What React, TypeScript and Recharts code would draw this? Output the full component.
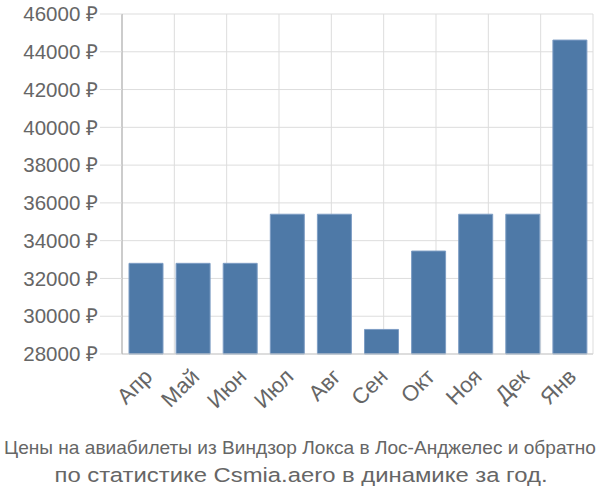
import { Bar, BarChart, CartesianGrid, XAxis, YAxis } from 'recharts'

const months = ['Апр', 'Май', 'Июн', 'Июл', 'Авг', 'Сен', 'Окт', 'Ноя', 'Дек', 'Янв']
const prices = [32800, 32800, 32800, 35400, 35400, 29300, 33450, 35400, 35400, 44620]
const yTicks = [28000, 30000, 32000, 34000, 36000, 38000, 40000, 42000, 44000, 46000]
const gridTicks = [0, 1, 2, 3, 4, 5, 6, 7, 8, 9, 10]
const titleLine1 = 'Цены на авиабилеты из Виндзор Локса в Лос-Анджелес и обратно'
const titleLine2 = 'по статистике Csmia.aero в динамике за год.'

const data = months.map((m, i) => ({ month: m, price: prices[i] }))

const font = '"Liberation Sans", Arial, sans-serif'

function MonthTick({ x, y, payload }: any) {
  const tx = x + 8
  const ty = y + 24
  return (
    <text
      x={tx}
      y={ty}
      transform={`rotate(-45, ${tx}, ${ty})`}
      textAnchor="end"
      fill="#666"
      fontSize={22}
      fontFamily={font}
    >
      {payload.value}
    </text>
  )
}

function GridTick({ x, y, index }: any) {
  return <line x1={x} x2={x} y1={y} y2={y + 20} stroke={index === 0 ? '#aaa' : '#ddd'} />
}

export default function App() {
  return (
    <div style={{ position: 'absolute', left: 0, top: 0, width: 600, height: 500, background: '#fff' }}>
      <BarChart width={600} height={430} data={data} margin={{ top: 14, right: 7, left: 0, bottom: 0 }}>
        <CartesianGrid xAxisId="grid" stroke="#ddd" />
        <XAxis
          xAxisId="grid"
          type="number"
          domain={[0, 10]}
          ticks={gridTicks}
          height={0}
          tickSize={0}
          tickMargin={0}
          tickLine={false}
          axisLine={false}
          tick={<GridTick />}
        />
        <XAxis
          xAxisId="cat"
          dataKey="month"
          height={76}
          tickSize={0}
          tickMargin={0}
          tickLine={false}
          axisLine={{ stroke: '#ccc' }}
          interval={0}
          tick={<MonthTick />}
        />
        <YAxis
          width={122}
          domain={[28000, 46000]}
          ticks={yTicks}
          interval={0}
          tickSize={22}
          tickMargin={2}
          tickLine={{ stroke: '#ddd' }}
          axisLine={{ stroke: '#aaa' }}
          tickFormatter={(v) => `${v} ₽`}
          tick={{ fill: '#666', fontSize: 20.5, fontFamily: font }}
        />
        <Bar
          xAxisId="cat"
          dataKey="price"
          fill="#4e79a7"
          stroke="#7d9dc4"
          barSize={34}
          isAnimationActive={false}
        />
      </BarChart>
      <svg width={600} height={70} style={{ position: 'absolute', left: 0, top: 430 }}>
        <text
          x={300}
          y={24}
          textAnchor="middle"
          fill="#666"
          fontSize={19}
          fontFamily={font}
          textLength={592}
          lengthAdjust="spacingAndGlyphs"
        >
          {titleLine1}
        </text>
        <text
          x={301}
          y={52}
          textAnchor="middle"
          fill="#666"
          fontSize={20.5}
          fontFamily={font}
          textLength={493}
          lengthAdjust="spacingAndGlyphs"
        >
          {titleLine2}
        </text>
      </svg>
    </div>
  )
}
